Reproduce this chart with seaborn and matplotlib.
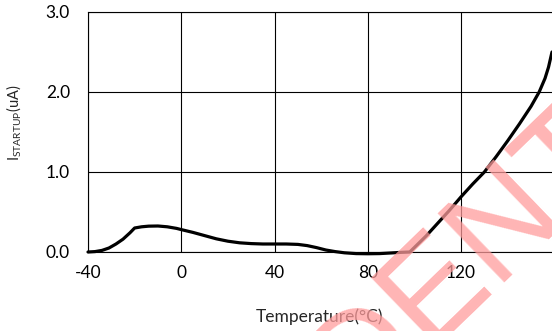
import pandas as pd
import seaborn as sns
import matplotlib.pyplot as plt

# startup current vs temperature
temp = [-40, -37, -34, -31, -28, -25, -22, -20, -17, -14, -10, -6, -2, 0, 5, 10, 15, 20,
        25, 30, 35, 40, 45, 50, 54, 58, 62, 66, 70, 75, 80, 85, 90, 94, 98,
        105, 110, 115, 120, 125, 130, 135, 140, 145, 150, 153.5, 156, 157.5, 159]
istartup = [0.0, 0.005, 0.02, 0.05, 0.1, 0.16, 0.24, 0.3, 0.315, 0.323, 0.325, 0.315, 0.295,
            0.28, 0.245, 0.205, 0.165, 0.135, 0.115, 0.105, 0.1, 0.1, 0.1, 0.095, 0.08,
            0.055, 0.025, 0.005, -0.01, -0.02, -0.022, -0.02, -0.012, -0.005, 0.0,
            0.2, 0.36, 0.52, 0.69, 0.85, 1.0, 1.19, 1.39, 1.6, 1.82, 2.0, 2.17, 2.31, 2.5]
xticks = [-40, 0, 40, 80, 120]
yticks = [0, 1, 2, 3]
ytick_labels = ["0.0", "1.0", "2.0", "3.0"]

df = pd.DataFrame({"temp": temp, "i": istartup})

sns.set_style("white")
plt.rcParams["font.family"] = ["Lato", "DejaVu Sans"]
plt.rcParams["mathtext.fontset"] = "custom"
plt.rcParams["mathtext.rm"] = "Lato"
plt.rcParams["axes.unicode_minus"] = False

fig = plt.figure(figsize=(5.52, 3.31), dpi=100)
ax = fig.add_axes([88 / 552, 79 / 331, 464 / 552, 240 / 331])

sns.lineplot(data=df, x="temp", y="i", color="black", linewidth=2.3, ax=ax, clip_on=False, zorder=5)

ax.set_xlim(-40, 159)
ax.set_ylim(0, 3)
ax.set_xticks(xticks)
ax.set_yticks(yticks, ytick_labels)
ax.grid(True, color="black", linewidth=0.8)
ax.tick_params(length=0, labelsize=12.5, colors="black")
ax.tick_params(axis="x", pad=9)
ax.tick_params(axis="y", pad=13)
for side in ["left", "top", "bottom"]:
    ax.spines[side].set_color("black")
    ax.spines[side].set_linewidth(0.8)
ax.spines["right"].set_visible(False)

ax.set_xlabel("Temperature(°C)", fontsize=12.5, labelpad=20)
ax.set_ylabel(r"I$_{\mathrm{STARTUP}}$(uA)", fontsize=10.5)
ax.yaxis.set_label_coords(-0.137, 0.54)

# watermark
fig.text(0.70, -0.025, "CONFIDENTIAL", fontsize=100, color="#ff9c9c", alpha=0.75,
         rotation=44, ha="center", va="center", family="Liberation Sans", zorder=0)

fig.savefig("out.png", dpi=100)
